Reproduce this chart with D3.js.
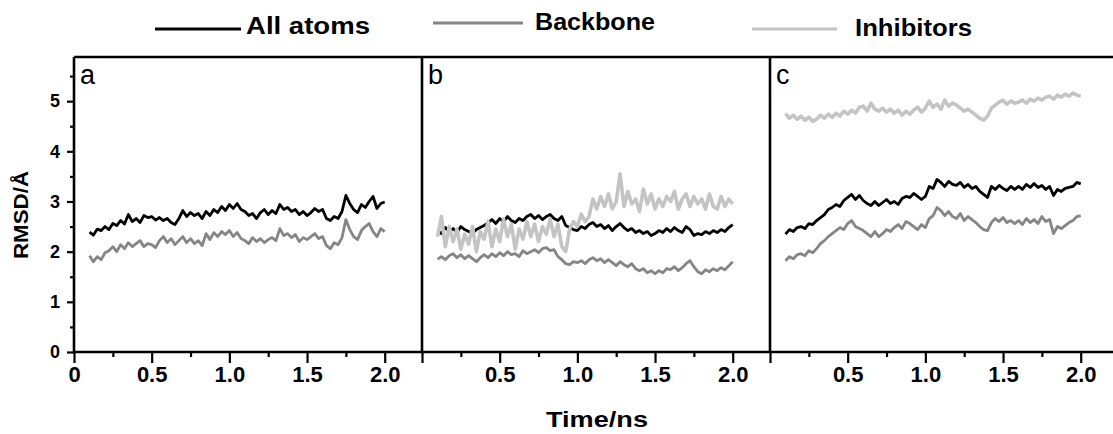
<!DOCTYPE html>
<html>
<head>
<meta charset="utf-8">
<script src="https://cdn.jsdelivr.net/npm/d3@7"></script>
<style>
  body { margin: 0; background: #fff; }
  svg { display: block; font-family: "Liberation Sans", Arial, sans-serif; }
</style>
</head>
<body>
<div id="chart"></div>
<script>
// sampling times (ns) shared by every trace
const times = [0.1,0.125,0.15,0.175,0.2,0.225,0.25,0.275,0.3,0.325,0.35,0.375,0.4,0.425,0.45,0.475,
  0.5,0.525,0.55,0.575,0.6,0.625,0.65,0.675,0.7,0.725,0.75,0.775,0.8,0.825,0.85,0.875,0.9,0.925,0.95,0.975,
  1.0,1.025,1.05,1.075,1.1,1.125,1.15,1.175,1.2,1.225,1.25,1.275,1.3,1.325,1.35,1.375,1.4,1.425,1.45,1.475,
  1.5,1.525,1.55,1.575,1.6,1.625,1.65,1.675,1.7,1.725,1.75,1.775,1.8,1.825,1.85,1.875,1.9,1.925,1.95,1.975,2.0];

const seriesNames = ["All atoms", "Backbone", "Inhibitors"];
const panelLabels = ["a", "b", "c"];

// panel a
const aAll = [2.39,2.33,2.45,2.42, 2.50,2.44,2.56,2.52, 2.62,2.55,2.74,2.60, 2.66,2.58,2.72,2.68,
  2.70,2.63,2.68,2.62, 2.66,2.58,2.54,2.66, 2.82,2.70,2.78,2.72, 2.76,2.66,2.80,2.72, 2.84,2.78,2.90,2.82,
  2.94,2.86,2.96,2.84, 2.80,2.72,2.76,2.66, 2.78,2.84,2.74,2.82, 2.76,2.94,2.84,2.88, 2.80,2.84,2.74,2.80,
  2.72,2.78,2.86,2.80, 2.84,2.66,2.62,2.70, 2.66,2.80,3.12,2.96, 2.84,2.78,2.94,2.88, 3.00,3.10,2.86,2.96, 2.99];
const aBack = [1.92,1.80,1.90,1.84, 1.98,2.02,2.10,2.00, 2.14,2.06,2.18,2.10, 2.16,2.22,2.10,2.16,
  2.14,2.08,2.22,2.30, 2.18,2.26,2.14,2.22, 2.30,2.18,2.26,2.16, 2.22,2.12,2.36,2.24, 2.38,2.30,2.40,2.34,
  2.42,2.30,2.38,2.26, 2.22,2.16,2.28,2.20, 2.26,2.18,2.24,2.28, 2.22,2.46,2.32,2.36, 2.28,2.34,2.20,2.28,
  2.24,2.30,2.36,2.26, 2.30,2.12,2.06,2.18, 2.14,2.28,2.64,2.44, 2.30,2.24,2.42,2.50, 2.56,2.40,2.30,2.46, 2.40];

// panel b
const bAll = [2.42,2.36,2.48,2.40, 2.46,2.38,2.50,2.44, 2.40,2.36,2.44,2.48, 2.52,2.58,2.64,2.56,
  2.66,2.60,2.70,2.62, 2.58,2.66,2.62,2.70, 2.74,2.66,2.72,2.64, 2.70,2.74,2.66,2.62, 2.70,2.52,2.48,2.44,
  2.42,2.50,2.46,2.54, 2.58,2.50,2.54,2.46, 2.52,2.42,2.50,2.56, 2.48,2.42,2.46,2.38, 2.42,2.36,2.40,2.32,
  2.36,2.42,2.38,2.46, 2.40,2.48,2.42,2.38, 2.50,2.44,2.32,2.36, 2.34,2.40,2.36,2.42, 2.38,2.44,2.40,2.48, 2.54];
const bBack = [1.85,1.90,1.84,1.92, 1.96,1.88,1.94,1.86, 1.92,1.86,1.80,1.88, 1.94,1.88,1.96,1.90,
  1.98,1.92,2.00,1.94, 1.96,1.90,2.02,1.96, 2.00,2.04,1.98,2.06, 2.08,2.02,2.04,1.90, 1.84,1.76,1.74,1.80,
  1.78,1.82,1.76,1.84, 1.88,1.82,1.86,1.78, 1.84,1.78,1.72,1.80, 1.74,1.70,1.76,1.66, 1.62,1.66,1.58,1.62,
  1.56,1.62,1.58,1.66, 1.64,1.70,1.62,1.68, 1.76,1.82,1.70,1.60, 1.56,1.64,1.60,1.66, 1.62,1.68,1.64,1.72, 1.80];
const bInh = [2.30,2.70,2.10,2.50, 2.20,2.45,2.05,2.35, 2.15,2.50,2.00,2.40, 2.25,2.60,2.10,2.45,
  2.20,2.65,2.30,2.55, 2.05,2.45,2.25,2.60, 2.30,2.55,2.20,2.50, 2.35,2.65,2.30,2.55, 2.10,2.00,2.45,2.60,
  2.50,2.75,2.60,2.70, 3.05,2.85,3.10,2.90, 3.15,2.85,3.00,3.55, 2.90,3.20,2.95,3.05, 2.80,3.25,2.95,3.15,
  2.85,3.05,2.90,3.10, 3.00,3.20,2.85,3.05, 3.15,2.90,3.10,2.95, 3.05,2.85,3.15,2.90, 2.85,3.10,2.90,3.05, 2.95];

// panel c
const cAll = [2.35,2.44,2.40,2.48, 2.50,2.46,2.56,2.54, 2.62,2.68,2.74,2.84, 2.88,2.94,2.90,3.02,
  3.08,3.14,3.04,3.12, 3.02,2.96,2.92,3.00, 2.92,2.98,3.04,2.96, 3.00,2.94,3.06,3.10, 3.08,3.16,3.10,3.04,
  3.10,3.30,3.26,3.44, 3.38,3.30,3.40,3.34, 3.32,3.38,3.28,3.34, 3.26,3.30,3.20,3.14, 3.08,3.30,3.24,3.32,
  3.26,3.22,3.30,3.24, 3.30,3.24,3.34,3.28, 3.36,3.28,3.32,3.24, 3.30,3.12,3.24,3.20, 3.26,3.28,3.30,3.38, 3.35];
const cBack = [1.82,1.90,1.86,1.94, 1.96,1.92,2.02,1.98, 2.06,2.16,2.22,2.30, 2.36,2.42,2.48,2.44,
  2.56,2.62,2.50,2.46, 2.42,2.36,2.30,2.40, 2.30,2.36,2.44,2.40, 2.48,2.54,2.46,2.60, 2.56,2.50,2.44,2.54,
  2.48,2.66,2.72,2.88, 2.82,2.72,2.80,2.70, 2.66,2.76,2.62,2.70, 2.64,2.58,2.50,2.44, 2.42,2.58,2.66,2.60,
  2.68,2.58,2.62,2.56, 2.62,2.54,2.66,2.58, 2.64,2.56,2.70,2.60, 2.64,2.36,2.50,2.46, 2.52,2.58,2.62,2.70, 2.72];
const cInh = [4.75,4.66,4.72,4.64, 4.70,4.62,4.68,4.60, 4.64,4.72,4.66,4.74, 4.68,4.76,4.70,4.80,
  4.74,4.82,4.76,4.88, 4.90,4.80,4.96,4.84, 4.80,4.86,4.78,4.84, 4.76,4.82,4.72,4.80, 4.74,4.82,4.88,4.78,
  4.86,5.00,4.88,4.94, 4.84,5.02,4.90,4.96, 4.92,4.86,4.80,4.84, 4.78,4.72,4.66,4.62, 4.70,4.86,4.92,4.98,
  5.02,4.94,5.00,4.96, 4.98,5.02,4.96,5.04, 5.00,5.06,5.02,5.08, 5.10,5.04,5.12,5.08, 5.14,5.10,5.16,5.12, 5.10];

// tick values
const xMajor = [0, 0.5, 1.0, 1.5, 2.0];
const xMinor = [0.25, 0.75, 1.25, 1.75];
const yMajor = [0, 1, 2, 3, 4, 5];
const yMinor = [0.5, 1.5, 2.5, 3.5, 4.5, 5.5];

const panels = [
  { label: panelLabels[0], series: [aAll, aBack], firstZero: true },
  { label: panelLabels[1], series: [bAll, bBack, bInh], firstZero: false },
  { label: panelLabels[2], series: [cAll, cBack, cInh], firstZero: false }
];
const colors = ["#000000", "#858585", "#c4c4c4"];
const widths = [2.8, 2.8, 3.6];

const width = 1113, height = 434;
const plotTop = 57, plotBottom = 352, plotLeft = 74, panelW = 348;

const svg = d3.select("#chart").append("svg")
  .attr("width", width).attr("height", height);

const y = d3.scaleLinear().domain([0, 5.88]).range([plotBottom, plotTop]);

// legend
const legendPos = [
  { x1: 155, x2: 241, ly: 29, tx: 246, ty: 34, len: 124 },
  { x1: 433, x2: 523, ly: 23, tx: 535, ty: 30, len: 120 },
  { x1: 752, x2: 837, ly: 29, tx: 855, ty: 36, len: 117 }
];
seriesNames.forEach((name, i) => {
  const p = legendPos[i];
  svg.append("line").attr("x1", p.x1).attr("x2", p.x2).attr("y1", p.ly).attr("y2", p.ly)
    .attr("stroke", colors[i]).attr("stroke-width", 3.2);
  svg.append("text").attr("x", p.tx).attr("y", p.ty)
    .attr("font-size", 23).attr("font-weight", "bold")
    .attr("textLength", p.len).attr("lengthAdjust", "spacingAndGlyphs")
    .text(name);
});

panels.forEach((panel, pi) => {
  const x0 = plotLeft + pi * panelW;
  const x = d3.scaleLinear().domain([0, 2.24]).range([x0, x0 + panelW]);
  const g = svg.append("g");

  const line = d3.line().x((d, i) => x(times[i])).y(d => y(d));
  // All atoms, Backbone, then Inhibitors on top
  panel.series.forEach((s, si) => {
    g.append("path").datum(s)
      .attr("fill", "none")
      .attr("stroke", colors[si])
      .attr("stroke-width", widths[si])
      .attr("stroke-linejoin", "round")
      .attr("d", line);
  });

  // x axis ticks
  const xAxis = d3.axisBottom(x).tickValues(xMajor).tickSize(11)
    .tickFormat(d => (d === 0 ? (panel.firstZero ? "0" : "") : d.toFixed(1)));
  const xa = svg.append("g").attr("transform", `translate(0,${plotBottom})`).call(xAxis);
  xa.select(".domain").remove();
  xa.selectAll(".tick line").attr("stroke", "#000").attr("stroke-width", 2.2);
  xa.selectAll(".tick text").attr("y", 30).attr("dy", 0)
    .attr("font-size", 22).attr("font-weight", "bold")
    .attr("font-family", "'Liberation Sans', Arial, sans-serif").attr("fill", "#000");

  const xaMinor = svg.append("g").attr("transform", `translate(0,${plotBottom})`)
    .call(d3.axisBottom(x).tickValues(xMinor).tickSize(5).tickFormat(""));
  xaMinor.select(".domain").remove();
  xaMinor.selectAll(".tick line").attr("stroke", "#000").attr("stroke-width", 2.2);

  // panel border (left side) and letter
  svg.append("line").attr("x1", x0).attr("x2", x0).attr("y1", plotTop).attr("y2", plotBottom)
    .attr("stroke", "#000").attr("stroke-width", 2.6);
  svg.append("text").attr("x", x0 + 6).attr("y", 84)
    .attr("font-size", 27).text(panel.label);
});

// top frame and x baseline
svg.append("line").attr("x1", plotLeft).attr("x2", width + 10).attr("y1", plotTop).attr("y2", plotTop)
  .attr("stroke", "#000").attr("stroke-width", 2.6);
svg.append("line").attr("x1", plotLeft).attr("x2", width + 10).attr("y1", plotBottom).attr("y2", plotBottom)
  .attr("stroke", "#000").attr("stroke-width", 2.6);

// y axis
const yAxis = d3.axisLeft(y).tickValues(yMajor).tickSize(7).tickFormat(d3.format("d"));
const ya = svg.append("g").attr("transform", `translate(${plotLeft},0)`).call(yAxis);
ya.select(".domain").remove();
ya.selectAll(".tick line").attr("stroke", "#000").attr("stroke-width", 2.2);
ya.selectAll(".tick text").attr("x", -14).attr("font-size", 18).attr("font-weight", "bold")
  .attr("font-family", "'Liberation Sans', Arial, sans-serif").attr("fill", "#000");
const yaMinor = svg.append("g").attr("transform", `translate(${plotLeft},0)`)
  .call(d3.axisLeft(y).tickValues(yMinor).tickSize(4).tickFormat(""));
yaMinor.select(".domain").remove();
yaMinor.selectAll(".tick line").attr("stroke", "#000").attr("stroke-width", 2.2);

// axis titles
svg.append("text")
  .attr("transform", "translate(28,215) rotate(-90)")
  .attr("text-anchor", "middle").attr("font-size", 20).attr("font-weight", "bold")
  .attr("textLength", 88).attr("lengthAdjust", "spacingAndGlyphs")
  .text("RMSD/Å");
svg.append("text")
  .attr("x", 597).attr("y", 427)
  .attr("text-anchor", "middle").attr("font-size", 22).attr("font-weight", "bold")
  .attr("textLength", 102).attr("lengthAdjust", "spacingAndGlyphs")
  .text("Time/ns");
</script>
</body>
</html>
